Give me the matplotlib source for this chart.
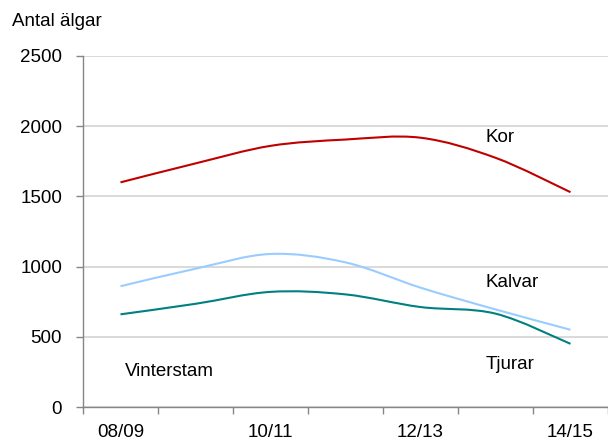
import numpy as np
import matplotlib
matplotlib.use("Agg")
import matplotlib.pyplot as plt
from matplotlib.path import Path
from matplotlib.patches import PathPatch

plt.rcParams['font.family'] = ['Liberation Sans', 'DejaVu Sans']

seasons = ["08/09", "09/10", "10/11", "11/12", "12/13", "13/14", "14/15"]
kor = [1600, 1735, 1860, 1905, 1918, 1775, 1530]
kalvar = [860, 985, 1090, 1030, 850, 695, 550]
tjurar = [660, 735, 820, 802, 712, 665, 450]
yticks = [0, 500, 1000, 1500, 2000, 2500]


def smooth_path(xs, ys):
    # Excel-like smoothed line: cubic Bezier through every data point
    pts = np.column_stack([xs, ys]).astype(float)
    n = len(pts)
    verts = [pts[0]]
    codes = [Path.MOVETO]
    for i in range(n - 1):
        p0 = pts[i - 1] if i > 0 else pts[i]
        p1, p2 = pts[i], pts[i + 1]
        p3 = pts[i + 2] if i + 2 < n else pts[i + 1]
        verts += [p1 + (p2 - p0) / 6, p2 - (p3 - p1) / 6, p2]
        codes += [Path.CURVE4] * 3
    return Path(verts, codes)


fig = plt.figure(figsize=(6.08, 4.40), dpi=100)
ax = fig.add_axes([83 / 608, 1 - 407 / 440, 525 / 608, 351 / 440])

x = np.arange(len(seasons)) + 0.5
for vals, col in [(kor, '#C00000'), (kalvar, '#99CCFF'), (tjurar, '#008080')]:
    ax.add_patch(PathPatch(smooth_path(x, vals), facecolor='none',
                           edgecolor=col, lw=1.5, capstyle='butt', zorder=3))

ax.set_xlim(0, len(seasons))
ax.set_ylim(0, 2500)
ax.set_yticks(yticks)
ax.set_yticklabels([str(v) for v in yticks])
ax.yaxis.grid(True, color='#d9d9d9', lw=1.4)
ax.set_axisbelow(True)

ax.set_xticks(np.arange(len(seasons) + 1))
ax.set_xticklabels([])
ax.set_xticks(x, minor=True)
ax.set_xticklabels([s if i % 2 == 0 else "" for i, s in enumerate(seasons)], minor=True)
ax.tick_params(axis='x', which='major', length=5, color='#868686', width=1)
ax.tick_params(axis='x', which='minor', length=0, pad=12, labelsize=13.5)
ax.tick_params(axis='y', length=5, color='#868686', width=1, pad=10, labelsize=13.5)

for s in ['top', 'right']:
    ax.spines[s].set_visible(False)
for s in ['left', 'bottom']:
    ax.spines[s].set_color('#868686')
    ax.spines[s].set_linewidth(1)

ax.text(5.37, 1920, "Kor", fontsize=13.5, va='center')
ax.text(5.37, 885, "Kalvar", fontsize=13.5, va='center')
ax.text(5.37, 305, "Tjurar", fontsize=13.5, va='center')
ax.text(0.56, 250, "Vinterstam", fontsize=13.5, va='center')

fig.text(12 / 608, 1 - 21 / 440, "Antal älgar", fontsize=13.5, va='center', ha='left')

fig.savefig("out.png", dpi=100)
